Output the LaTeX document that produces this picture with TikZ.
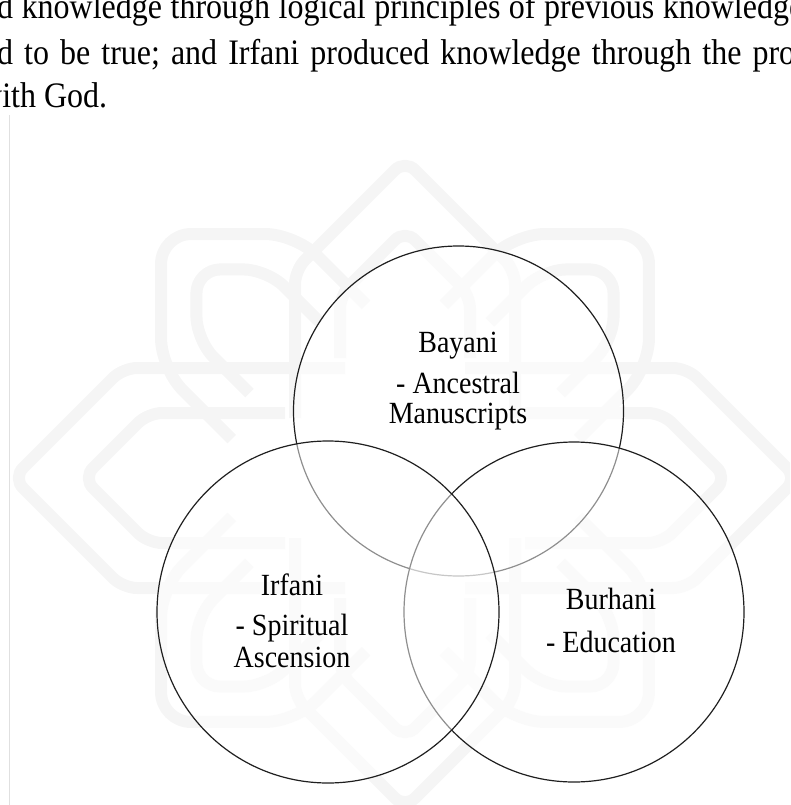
\documentclass[tikz,border=0pt]{standalone}
\usepackage{fontspec}
\setmainfont{Liberation Serif}
\begin{document}
\begin{tikzpicture}[x=1pt,y=-1pt,
  ring/.style={draw=black!88, line width=1.2pt, fill=white, fill opacity=0.5, draw opacity=1},
  lbl/.style={anchor=base, inner sep=0pt, font=\fontsize{28}{30}\selectfont},
  body/.style={anchor=base west, inner sep=0pt, font=\fontsize{32}{42}\selectfont},
  mark band/.style={draw=black!4, line width=12pt, line join=round, rounded corners=14pt}]
\useasboundingbox (0,0) rectangle (790,805);
\clip (0,0) rectangle (790,805);

% faint emblem in the page background: eight domed petals round a centre
\coordinate (emblem) at (405,478);
\foreach \ang/\R/\w in {0/318/110, 90/392/110, 180/330/110, 270/392/110} {
  \begin{scope}[shift={(emblem)}, rotate=\ang]
    \draw[mark band] (-\w,-60) -- (-\w,{-(\R-\w)}) -- (0,-\R) -- (\w,{-(\R-\w)}) -- (\w,-60);
    \draw[mark band] ({-(\w-45)},-120) -- ({-(\w-45)},{-(\R-\w-25)}) -- (0,{-(\R-70)})
      -- ({\w-45},{-(\R-\w-25)}) -- ({\w-45},-120);
  \end{scope}
}
\foreach \ang in {45,135,225,315} {
  \begin{scope}[shift={(emblem)}, rotate=\ang]
    \draw[mark band, rounded corners=30pt] (-95,-150) -- (-95,-250) -- (0,-345) -- (95,-250) -- (95,-150);
    \draw[mark band, rounded corners=24pt] (-50,-170) -- (-50,-245) -- (0,-295) -- (50,-245) -- (50,-170);
  \end{scope}
}
\draw[draw=black!12, line width=0.8pt] (9,115) -- (9,805);

% running text above the figure
\node[body] (line1) at (-3,19)
  {\scalebox{1}[1.12]{\hbox to 806pt{d\hfill knowledge\hfill through\hfill logical\hfill principles\hfill of\hfill previous\hfill knowledge}}};
\node[body] (line2) at (-3,65)
  {\scalebox{1}[1.12]{\hbox to 798pt{d\hfill to\hfill be\hfill true;\hfill and\hfill Irfani\hfill produced\hfill knowledge\hfill through\hfill the\hfill pro}}};
\node[body] (line3) at (-21,108) {\scalebox{1}[1.12]{with God.}};

% the three overlapping circles
\path[ring] (458.5,411) circle[radius=165];
\path[ring] (574,612) circle[radius=170];
\path[ring] (328,612) circle[radius=171];

% labels
\node[lbl] (bayani) at (458,352) {\scalebox{1}[1.1]{Bayani}};
\node[lbl] (bayani1) at (458,393) {\scalebox{1}[1.1]{- Ancestral}};
\node[lbl] (bayani2) at (458,423) {\scalebox{1}[1.1]{Manuscripts}};

\node[lbl] (irfani) at (292,595) {\scalebox{1}[1.1]{Irfani}};
\node[lbl] (irfani1) at (292,635) {\scalebox{1}[1.1]{- Spiritual}};
\node[lbl] (irfani2) at (292,667) {\scalebox{1}[1.1]{Ascension}};

\node[lbl] (burhani) at (611,609) {\scalebox{1}[1.1]{Burhani}};
\node[lbl] (burhani1) at (611,652) {\scalebox{1}[1.1]{- Education}};
\end{tikzpicture}
\end{document}
